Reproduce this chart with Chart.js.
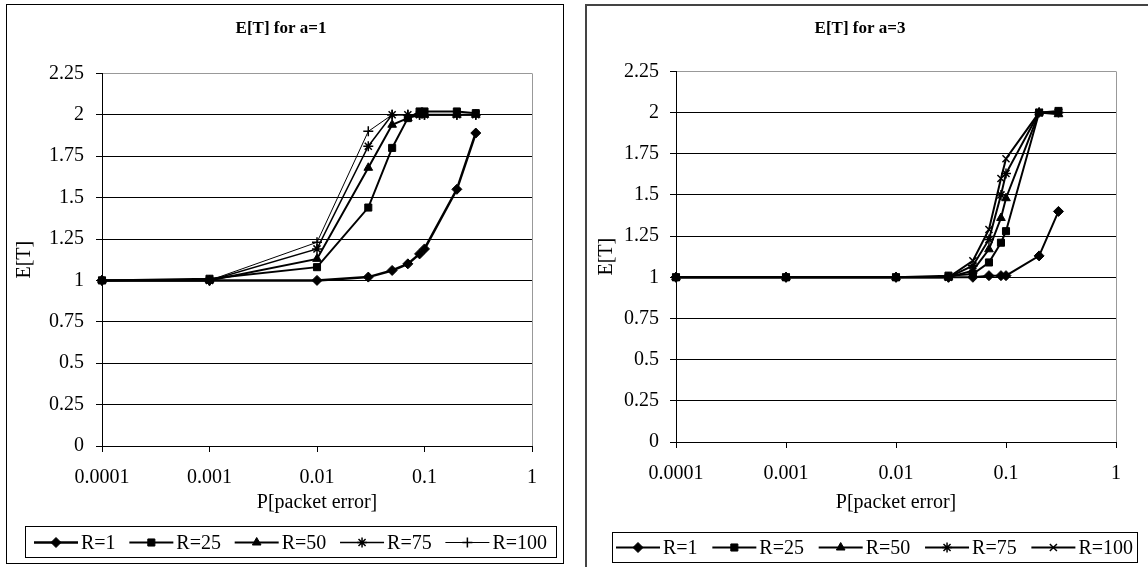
<!DOCTYPE html>
<html>
<head>
<meta charset="utf-8">
<title>E[T] vs P[packet error]</title>
<script src="https://cdn.jsdelivr.net/npm/chart.js@4.4.1/dist/chart.umd.min.js"></script>
<style>
  html, body { margin: 0; padding: 0; background: #fff; overflow: hidden; }
  body { width: 1148px; height: 567px; position: relative; }
  .panel { position: absolute; background: #fff; }
  #panel-a1 { left: 6px; top: 4px; border: 1px solid #000; }
  #panel-a3 { left: 585px; top: 4px; border: 2px solid #444; }
  canvas { display: block; }
</style>
</head>
<body>
<div class="panel" id="panel-a1"><canvas id="chart-a1" width="556" height="558"></canvas></div>
<div class="panel" id="panel-a3"><canvas id="chart-a3" width="566" height="562"></canvas></div>
<script>
const errorProb = [0.0001, 0.001, 0.01, 0.03, 0.05, 0.07, 0.09, 0.1, 0.2, 0.3];
const xTickValues = [0.0001, 0.001, 0.01, 0.1, 1];
const yTickValues = [0, 0.25, 0.5, 0.75, 1, 1.25, 1.5, 1.75, 2, 2.25];
const seriesLabels = ['R=1', 'R=25', 'R=50', 'R=75', 'R=100'];

// a = 1
const a1R1   = [1, 1, 1, 1.02, 1.06, 1.1, 1.16, 1.19, 1.55, 1.89];
const a1R25  = [1, 1.01, 1.08, 1.44, 1.8, 1.98, 2.02, 2.02, 2.02, 2.01];
const a1R50  = [1, 1, 1.13, 1.68, 1.94, 1.98, 2, 2, 2, 2];
const a1R75  = [1, 1, 1.19, 1.81, 2, 2, 2, 2, 2, 2];
const a1R100 = [1, 1, 1.23, 1.9, 2, 2, 2, 2, 2, 2];

// a = 3
const a3R1   = [1, 1, 1, 1, 1, 1.01, 1.01, 1.01, 1.13, 1.4];
const a3R25  = [1, 1, 1, 1.01, 1.02, 1.09, 1.21, 1.28, 2, 2.01];
const a3R50  = [1, 1, 1, 1, 1.04, 1.17, 1.36, 1.48, 2, 1.99];
const a3R75  = [1, 1, 1, 1, 1.07, 1.23, 1.5, 1.63, 2, 2];
const a3R100 = [1, 1, 1, 1, 1.1, 1.29, 1.6, 1.72, 2, 2];

const FONT = '"Liberation Serif", "Times New Roman", serif';

// line + marker look of each series
const stylesA1 = [
  { marker: 'rectRot', radius: 5, width: 2.5, markerLine: 1 },
  { marker: 'rect', radius: 5, width: 2, markerLine: 1 },
  { marker: 'triangle', radius: 5, width: 2, markerLine: 1 },
  { marker: 'star', radius: 5, width: 1.5, markerLine: 1.5 },
  { marker: 'cross', radius: 5, width: 1, markerLine: 1.5 }
];
const stylesA3 = [
  { marker: 'rectRot', radius: 5, width: 2, markerLine: 1 },
  { marker: 'rect', radius: 5, width: 2, markerLine: 1 },
  { marker: 'triangle', radius: 5, width: 2, markerLine: 1 },
  { marker: 'star', radius: 5, width: 2, markerLine: 1.5 },
  { marker: 'crossRot', radius: 5, width: 2, markerLine: 1.5 }
];

// legend drawn as a framed row: line with marker, then the label
const boxedLegend = {
  id: 'boxedLegend',
  afterDraw(chart, args, opts) {
    const ctx = chart.ctx;
    const sets = chart.data.datasets;
    const symW = 44, textGap = 3;
    ctx.save();
    ctx.font = '20px ' + FONT;
    const textW = sets.map(ds => ctx.measureText(ds.label).width);
    const used = sets.length * (symW + textGap) + textW.reduce((a, b) => a + b, 0);
    const gap = (opts.w - 2 * opts.margin - used) / (sets.length - 1);
    ctx.strokeStyle = '#000';
    ctx.lineWidth = 1;
    ctx.strokeRect(opts.x + 0.5, opts.y + 0.5, opts.w, opts.h);
    const cy = Math.round(opts.y + opts.h / 2) + 0.5;
    let cx = opts.x + opts.margin;
    sets.forEach((ds, i) => {
      ctx.strokeStyle = '#000';
      ctx.fillStyle = '#000';
      ctx.lineWidth = ds.borderWidth;
      ctx.beginPath();
      ctx.moveTo(cx, cy);
      ctx.lineTo(cx + symW, cy);
      ctx.stroke();
      ctx.lineWidth = ds.pointBorderWidth;
      if (Chart.helpers && Chart.helpers.drawPoint) {
        Chart.helpers.drawPoint(ctx, { pointStyle: ds.pointStyle, radius: ds.pointRadius, rotation: 0, borderWidth: ds.pointBorderWidth }, cx + symW / 2, cy);
      }
      ctx.textBaseline = 'middle';
      ctx.textAlign = 'left';
      ctx.fillText(ds.label, cx + symW + textGap, cy + 1);
      cx += symW + textGap + textW[i] + gap;
    });
    ctx.restore();
  }
};

function makeChart(canvasId, titleText, seriesValues, styles, g) {
  const datasets = seriesValues.map((vals, i) => ({
    label: seriesLabels[i],
    data: errorProb.map((p, j) => ({ x: p, y: vals[j] })),
    borderColor: '#000',
    backgroundColor: '#000',
    borderWidth: styles[i].width,
    pointStyle: styles[i].marker,
    pointRadius: styles[i].radius,
    pointBorderWidth: styles[i].markerLine,
    pointBackgroundColor: '#000',
    pointBorderColor: '#000',
    tension: 0,
    clip: false
  }));

  return new Chart(document.getElementById(canvasId), {
    type: 'line',
    data: { datasets },
    plugins: [boxedLegend],
    options: {
      responsive: false,
      animation: false,
      layout: { padding: { top: 0, left: 0, right: g.padRight, bottom: g.padBottom } },
      plugins: {
        legend: { display: false },
        tooltip: { enabled: false },
        title: {
          display: true,
          text: titleText,
          color: '#000',
          font: { family: FONT, size: 17, weight: 'bold' },
          padding: { top: g.titleTop, bottom: g.titleBottom }
        },
        boxedLegend: g.legend
      },
      scales: {
        x: {
          type: 'logarithmic',
          min: 0.0001,
          max: 1,
          afterBuildTicks: s => { s.ticks = xTickValues.map(v => ({ value: v })); },
          afterFit: s => { s.height = g.xHeight; },
          ticks: {
            color: '#000',
            font: { family: FONT, size: 20 },
            padding: 14,
            maxRotation: 0,
            autoSkip: false,
            callback: v => String(v)
          },
          grid: {
            color: c => (c.tick && c.tick.value === 1) ? '#999' : 'rgba(0,0,0,0)',
            tickColor: '#000',
            tickLength: 6
          },
          border: { color: '#000', width: 1 },
          title: {
            display: true,
            text: 'P[packet error]',
            color: '#000',
            font: { family: FONT, size: 20 },
            padding: { top: 4, bottom: 4 }
          }
        },
        y: {
          type: 'linear',
          min: 0,
          max: 2.25,
          afterBuildTicks: s => { s.ticks = yTickValues.map(v => ({ value: v })); },
          afterFit: s => { s.width = g.yWidth; },
          ticks: {
            color: '#000',
            font: { family: FONT, size: 20 },
            padding: g.yTickPad,
            callback: v => String(v)
          },
          grid: {
            color: c => (c.tick && c.tick.value === 2.25) ? '#999' : '#000',
            tickColor: '#000',
            tickLength: 6
          },
          border: { color: '#000', width: 1 },
          title: {
            display: true,
            text: 'E[T]',
            color: '#000',
            font: { family: FONT, size: 20 },
            padding: { top: g.yTitlePad, bottom: 0 }
          }
        },
        // empty right-hand strip so the plot stops short of the frame
        pad: {
          position: 'right',
          display: true,
          grid: { display: false },
          border: { display: false },
          ticks: { display: false },
          afterFit: s => { s.width = g.rightStrip; }
        }
      }
    }
  });
}

makeChart('chart-a1', 'E[T] for a=1', [a1R1, a1R25, a1R50, a1R75, a1R100], stylesA1, {
  padRight: 8, rightStrip: 23, padBottom: 44,
  titleTop: 13, titleBottom: 35,
  xHeight: 73, yWidth: 95, yTickPad: 12, yTitlePad: 6,
  legend: { x: 18, y: 521, w: 531, h: 31, margin: 9 }
});

makeChart('chart-a3', 'E[T] for a=3', [a3R1, a3R25, a3R50, a3R75, a3R100], stylesA3, {
  padRight: 20, rightStrip: 17, padBottom: 49,
  titleTop: 12, titleBottom: 33,
  xHeight: 77, yWidth: 89, yTickPad: 11, yTitlePad: 8,
  legend: { x: 25, y: 526, w: 525, h: 30, margin: 4 }
});
</script>
</body>
</html>
